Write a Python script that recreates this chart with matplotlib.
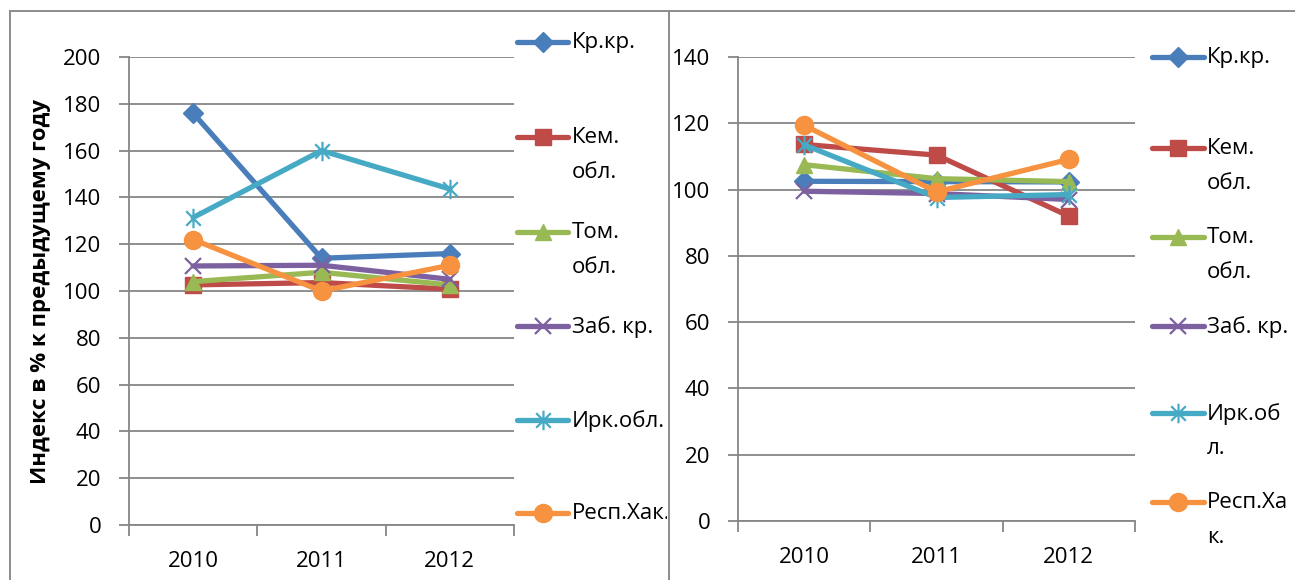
import matplotlib
matplotlib.use('Agg')
import matplotlib.pyplot as plt
from matplotlib.path import Path
from matplotlib.lines import Line2D
from matplotlib.transforms import Bbox, TransformedBbox

# ---------------- data ----------------
years = ['2010', '2011', '2012']
ylabel = 'Индекс в % к предыдущему году'

left_kr = [176, 114, 116]
left_kem = [102.6, 103.6, 100.8]
left_tom = [104, 108, 102.6]
left_zab = [110.7, 111, 105]
left_irk = [131.4, 160, 143.6]
left_hak = [122, 100, 111]

right_kr = [102.5, 102.4, 102.3]
right_kem = [113.6, 110.4, 92]
right_tom = [107.5, 103.3, 102.4]
right_zab = [99.5, 98.8, 97]
right_irk = [113.5, 97.6, 98.5]
right_hak = [119.4, 99.3, 109.1]

left_yticks = [0, 20, 40, 60, 80, 100, 120, 140, 160, 180, 200]
right_yticks = [0, 20, 40, 60, 80, 100, 120, 140]

legend_left = ['Кр.кр.', 'Кем.\nобл.', 'Том.\nобл.', 'Заб. кр.', 'Ирк.обл.', 'Респ.Хак.']
legend_right = ['Кр.кр.', 'Кем.\nобл.', 'Том.\nобл.', 'Заб. кр.', 'Ирк.об\nл.', 'Респ.Ха\nк.']

# ---------------- style ----------------
plt.rcParams['font.family'] = ['Open Sans', 'DejaVu Sans']
W, H = 1295, 580
fig = plt.figure(figsize=(W / 100, H / 100), dpi=100)

def fx(px):
    return px / W

def fy(py):
    return 1 - py / H

colors = ['#4A7EBB', '#BE4B48', '#98B954', '#7D60A0', '#46AAC5', '#F69240']
star = Path([(0, -1), (0, 1), (-0.75, -0.75), (0.75, 0.75), (-0.75, 0.75), (0.75, -0.75)],
            [Path.MOVETO, Path.LINETO, Path.MOVETO, Path.LINETO, Path.MOVETO, Path.LINETO])
mstyles = [
    dict(marker='D', markersize=10),
    dict(marker='s', markersize=12),
    dict(marker='^', markersize=12),
    dict(marker='x', markersize=11, markeredgewidth=1.6),
    dict(marker=star, markersize=14, markeredgewidth=1.6, markerfacecolor='none'),
    dict(marker='o', markersize=13),
]
grid_c = '#868686'
FS = 16
LW = 3.8

def style_marker(i):
    d = dict(mstyles[i])
    d.setdefault('markerfacecolor', colors[i])
    d['markeredgecolor'] = colors[i]
    return d

def make_axes(rect, series, yticks, ymax):
    ax = fig.add_axes(rect)
    ax.patch.set_visible(False)
    x = list(range(len(years)))
    for i, vals in enumerate(series):
        ax.plot(x, vals, color=colors[i], lw=LW, solid_capstyle='round',
                solid_joinstyle='round', zorder=3 + i, **style_marker(i))
    ax.set_xlim(-0.5, len(years) - 0.5)
    ax.set_ylim(0, ymax)
    ax.set_xticks(x)
    ax.set_xticklabels(years)
    ax.set_xticks([k - 0.5 for k in range(len(years) + 1)], minor=True)
    ax.set_yticks(yticks)
    ax.set_yticklabels([str(t) for t in yticks])
    ax.tick_params(axis='x', which='major', length=0, pad=19, labelsize=FS)
    ax.tick_params(axis='x', which='minor', length=8, width=1.3, color=grid_c, direction='out')
    ax.tick_params(axis='y', length=7, width=1.3, color=grid_c, pad=13, labelsize=FS, direction='out')
    for s in ['top', 'right']:
        ax.spines[s].set_visible(False)
    for s in ['left', 'bottom']:
        ax.spines[s].set_color(grid_c)
        ax.spines[s].set_linewidth(1.3)
    ax.yaxis.grid(True, color=grid_c, lw=1.3)
    ax.set_axisbelow(True)
    return ax

axL = make_axes([fx(129), fy(525), fx(514) - fx(129), fy(57) - fy(525)],
                [left_kr, left_kem, left_tom, left_zab, left_irk, left_hak],
                left_yticks, 200)
axR = make_axes([fx(738), fy(521), fx(1135) - fx(738), fy(57) - fy(521)],
                [right_kr, right_kem, right_tom, right_zab, right_irk, right_hak],
                right_yticks, 140)

fig.text(fx(41), fy(292), ylabel, rotation=90, ha='center', va='center',
         fontsize=FS, fontweight='bold')

# panel borders
bc = '#8C8C8C'
for xs, ys in [([10, 10], [H + 5, 11]), ([10, 669], [11, 11]), ([669, 669], [11, H + 5]),
               ([669, W + 5], [11, 11])]:
    fig.add_artist(Line2D([fx(v) for v in xs], [fy(v) for v in ys], color=bc, lw=1.4))

# legends
def draw_legend(labels, x0, x1, tx, ys, clip_right):
    clip = TransformedBbox(Bbox([[0, 0], [fx(clip_right), 1]]), fig.transFigure)
    for i, (lab, yy) in enumerate(zip(labels, ys)):
        fig.add_artist(Line2D([fx(x0), fx(x1)], [fy(yy), fy(yy)], color=colors[i], lw=LW,
                              solid_capstyle='round'))
        fig.add_artist(Line2D([fx((x0 + x1) / 2)], [fy(yy)], linestyle='none', **style_marker(i)))
        t = fig.text(fx(tx), fy(yy - 10), lab, ha='left', va='top', fontsize=FS, linespacing=1.85)
        t.set_clip_on(True)
        t.set_clip_box(clip)

draw_legend(legend_left, 517, 568, 572, [42, 137, 232, 326, 420, 513], 667)
draw_legend(legend_right, 1152, 1204, 1207, [57, 148, 237, 326, 413, 502], W)

fig.savefig('out.png', dpi=100)
